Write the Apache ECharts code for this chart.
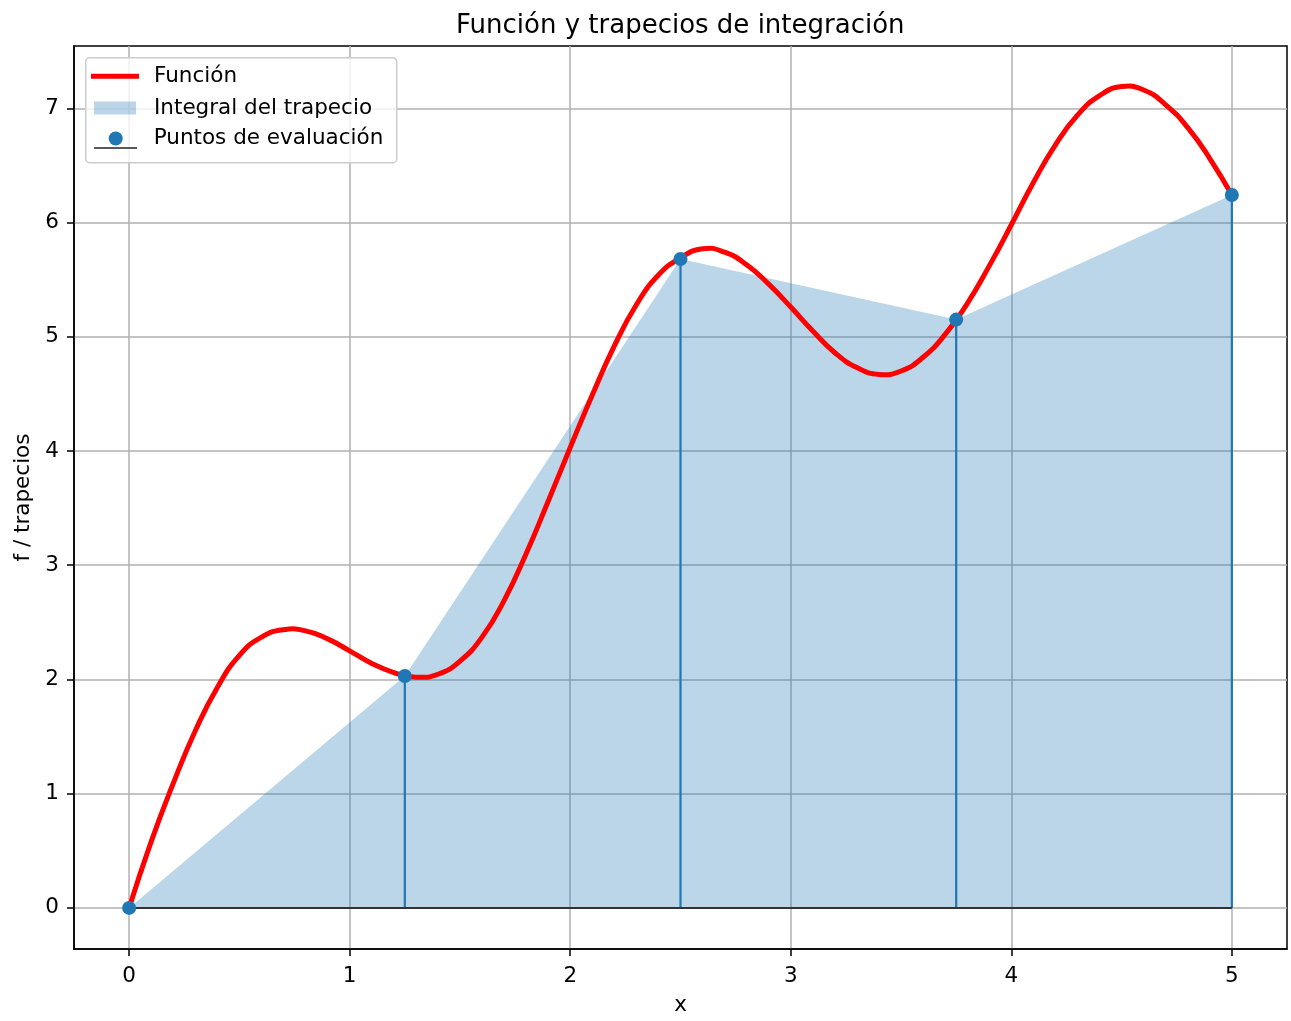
<!DOCTYPE html>
<html>
<head>
<meta charset="utf-8">
<script src="https://cdn.jsdelivr.net/npm/echarts@6/dist/echarts.min.js"></script>
<style>
html,body{margin:0;padding:0;background:#fff;}
#chart{width:1291px;height:1021px;}
</style>
</head>
<body>
<div id="chart"></div>
<script>
// ---- data ----
const titleText = 'Función y trapecios de integración';
const xName = 'x';
const yName = 'f / trapecios';
const seriesNames = ['Función', 'Integral del trapecio', 'Puntos de evaluación'];

const xTicks = [0, 1, 2, 3, 4, 5];
const yTicks = [0, 1, 2, 3, 4, 5, 6, 7];

// red function curve, read every 0.1 along x
const curveX = [0, 0.1, 0.2, 0.3, 0.4, 0.5, 0.6, 0.7, 0.8, 0.9,
                1.0, 1.1, 1.2, 1.3, 1.4, 1.5, 1.6, 1.7, 1.8, 1.9,
                2.0, 2.1, 2.2, 2.3, 2.4, 2.5, 2.6, 2.7, 2.8, 2.9,
                3.0, 3.1, 3.2, 3.3, 3.4, 3.5, 3.6, 3.7, 3.8, 3.9,
                4.0, 4.1, 4.2, 4.3, 4.4, 4.5, 4.6, 4.7, 4.8, 4.9, 5.0];
const curveY = [0, 0.58, 1.09, 1.55, 1.93, 2.21, 2.37, 2.435, 2.425, 2.355,
                2.25, 2.14, 2.06, 2.02, 2.045, 2.16, 2.37, 2.69, 3.10, 3.56,
                4.03, 4.49, 4.92, 5.28, 5.54, 5.69, 5.77, 5.74, 5.63, 5.46,
                5.26, 5.05, 4.86, 4.73, 4.67, 4.70, 4.82, 5.02, 5.29, 5.62,
                5.98, 6.35, 6.68, 6.94, 7.11, 7.19, 7.16, 7.03, 6.83, 6.56, 6.24];

// evaluation nodes (trapezoid vertices)
const nodeX = [0, 1.25, 2.5, 3.75, 5];
const nodeY = [0, 2.03, 5.68, 5.15, 6.24];

// stem baseline
const baseX = [0, 5];
const baseY = [0, 0];

const xRange = [-0.25, 5.25];
const yRange = [-0.36, 7.545];

// ---- chart ----
const FONT = 'DejaVu Sans';
const zip = (a, b) => a.map((v, i) => [v, b[i]]);

const chart = echarts.init(document.getElementById('chart'), null, {renderer: 'canvas'});

const axisCommon = {
  type: 'value',
  axisLine: {show: true, onZero: false, lineStyle: {color: '#000', width: 1.5}},
  axisTick: {show: true, length: 7, inside: false, lineStyle: {color: '#000', width: 1.5}},
  splitLine: {show: true, lineStyle: {color: '#b0b0b0', width: 1.5}},
  axisLabel: {fontFamily: FONT, fontSize: 21.5, color: '#000'},
  nameTextStyle: {fontFamily: FONT, fontSize: 21.5, color: '#000'}
};

const option = {
  animation: false,
  backgroundColor: '#fff',
  title: {
    text: titleText,
    left: 456,
    top: 13.5,
    padding: 0,
    textStyle: {fontFamily: FONT, fontSize: 26, fontWeight: 'normal', color: '#000'}
  },
  grid: {
    left: 74, right: 4, top: 46, bottom: 71,
    show: true, borderColor: '#000', borderWidth: 1.5, backgroundColor: 'transparent'
  },
  xAxis: Object.assign({}, axisCommon, {
    min: xRange[0], max: xRange[1],
    name: xName, nameLocation: 'middle', nameGap: 45,
    axisTick: Object.assign({}, axisCommon.axisTick, {customValues: xTicks}),
    axisLabel: Object.assign({}, axisCommon.axisLabel, {customValues: xTicks, margin: 16})
  }),
  yAxis: Object.assign({}, axisCommon, {
    min: yRange[0], max: yRange[1],
    name: yName, nameLocation: 'middle', nameGap: 40,
    axisTick: Object.assign({}, axisCommon.axisTick, {customValues: yTicks}),
    axisLabel: Object.assign({}, axisCommon.axisLabel, {customValues: yTicks, margin: 15})
  }),
  legend: [
    {
      data: [{name: seriesNames[0], itemStyle: {color: '#ff0000', borderWidth: 0}}],
      left: 91, top: 65.25, padding: 0,
      icon: 'rect', itemWidth: 48, itemHeight: 5,
      textStyle: {fontFamily: FONT, fontSize: 21.5, color: '#000', padding: [0, 0, 0, 10]}
    },
    {
      data: [{name: seriesNames[1], itemStyle: {color: 'rgba(31,119,180,0.3)', borderWidth: 0}}],
      left: 94, top: 97, padding: 0,
      icon: 'rect', itemWidth: 42, itemHeight: 13,
      textStyle: {fontFamily: FONT, fontSize: 21.5, color: '#000', padding: [0, 0, 0, 13]}
    },
    {
      data: [{name: seriesNames[2], itemStyle: {color: '#1f77b4', opacity: 1}}],
      left: 108.7, top: 127.5, padding: 0,
      icon: 'circle', itemWidth: 14, itemHeight: 14,
      textStyle: {fontFamily: FONT, fontSize: 21.5, color: '#000', padding: [0, 0, 0, 26]}
    }
  ],
  graphic: [
    {
      type: 'rect', z: 3,
      shape: {x: 85.7, y: 57.7, width: 311, height: 105, r: 4},
      style: {fill: 'rgba(255,255,255,0.8)', stroke: '#cccccc', lineWidth: 1.5}
    },
    {
      type: 'line', z: 3,
      shape: {x1: 94, y1: 148, x2: 137, y2: 148},
      style: {stroke: '#222', lineWidth: 1.5}
    }
  ],
  series: [
    {
      name: seriesNames[1],
      type: 'line',
      data: zip(nodeX, nodeY),
      showSymbol: false, symbol: 'none',
      color: 'rgba(31,119,180,0.3)',
      lineStyle: {width: 0, opacity: 0},
      areaStyle: {color: '#1f77b4', opacity: 0.3},
      z: 2, silent: true
    },
    {
      // smooth spline through the sampled curve points, placed via the axes
      name: seriesNames[0],
      type: 'custom',
      data: zip(curveX, curveY),
      color: '#ff0000',
      itemStyle: {color: '#ff0000'},
      z: 3, silent: true, clip: false,
      renderItem: function (params, api) {
        if (params.dataIndex !== 0) return null;
        const pts = curveX.map((x, i) => api.coord([x, curveY[i]]));
        return {
          type: 'polyline',
          shape: {points: pts, smooth: 0.5},
          style: {stroke: '#ff0000', lineWidth: 5, fill: null, lineJoin: 'round', lineCap: 'round'}
        };
      }
    },
    {
      name: 'stems',
      type: 'bar',
      data: zip(nodeX, nodeY),
      barWidth: 2.2,
      itemStyle: {color: '#1f77b4'},
      z: 4, silent: true
    },
    {
      name: 'baseline',
      type: 'line',
      data: zip(baseX, baseY),
      showSymbol: false, symbol: 'none',
      lineStyle: {color: '#333', width: 2},
      z: 4, silent: true
    },
    {
      name: seriesNames[2],
      type: 'scatter',
      data: zip(nodeX, nodeY),
      symbol: 'circle', symbolSize: 14,
      itemStyle: {color: '#1f77b4', opacity: 1},
      color: '#1f77b4',
      z: 5, silent: true
    }
  ]
};

chart.setOption(option);
</script>
</body>
</html>
